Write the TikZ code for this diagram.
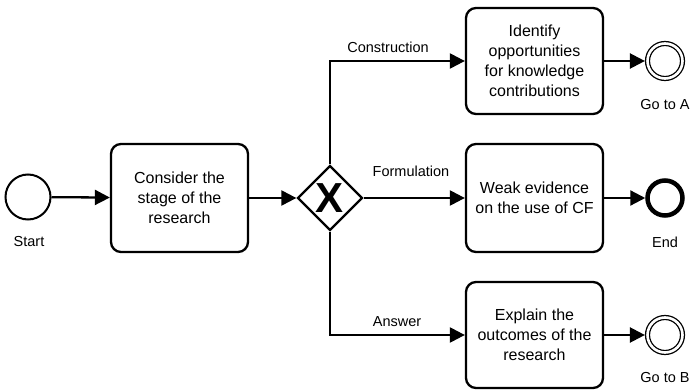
\documentclass[tikz,border=0pt]{standalone}
\usepackage{fontspec}
\setmainfont{Liberation Sans}
\usetikzlibrary{arrows.meta,shapes.geometric}
\begin{document}
\begin{tikzpicture}[x=1pt,y=-1pt,
  task/.style={draw,line width=2.3pt,rounded corners=10pt,minimum width=137pt,align=center,
    font=\fontsize{16}{20}\selectfont,inner sep=0pt},
  startev/.style={draw,circle,line width=2pt,minimum size=45pt,inner sep=0pt},
  endev/.style={draw,circle,line width=4.5pt,minimum size=35pt,inner sep=0pt},
  linkev/.style={draw,circle,line width=1.3pt,double,double distance=2.6pt,minimum size=35pt,inner sep=0pt,outer sep=2.6pt},
  gw/.style={draw,diamond,line width=2.3pt,minimum width=65pt,minimum height=65pt,inner sep=0pt},
  lbl/.style={font=\fontsize{14.5}{17}\selectfont,inner sep=0pt},
  flow/.style={line width=2.3pt,-{Triangle[length=15pt,width=15pt]}}
]
\useasboundingbox (0,0) rectangle (699,390);

\node[startev] (s) at (28,197) {};
\node[lbl] (sl) at (29,242) {Start};
\node[task,minimum height=108pt] (t1) at (179.5,198) {Consider the\\stage of the\\research};
\node[gw] (g) at (330,198) {};
\node[font=\bfseries\fontsize{42}{42}\selectfont,inner sep=0pt] (gx) at (330,198) {X};

\node[task,minimum height=106pt] (t2) at (534.5,61) {Identify\\opportunities\\for knowledge\\contributions};
\node[task,minimum height=108pt] (t3) at (534.5,198) {Weak evidence\\on the use of CF};
\node[task,minimum height=106pt] (t4) at (534.5,335) {Explain the\\outcomes of the\\research};

\node[linkev] (ea) at (665,61) {};
\node[lbl] (eal) at (665,105) {Go to A};
\node[endev] (ee) at (665,198) {};
\node[lbl] (eel) at (665,242) {End};
\node[linkev] (eb) at (665,335) {};
\node[lbl] (ebl) at (665,378) {Go to B};

\draw[flow] (s) -- (t1);
\draw[flow] (t1) -- (g);
\draw[flow] (g.north) |- (t2.west);
\draw[flow] (g.east) -- (t3.west);
\draw[flow] (g.south) |- (t4.west);
\draw[flow] (t2) -- (ea);
\draw[flow] (t3) -- (ee);
\draw[flow] (t4) -- (eb);

\node[lbl] (lc) at (388,47) {Construction};
\node[lbl] (lf) at (411,171) {Formulation};
\node[lbl] (la) at (397,322) {Answer};
\end{tikzpicture}
\end{document}
